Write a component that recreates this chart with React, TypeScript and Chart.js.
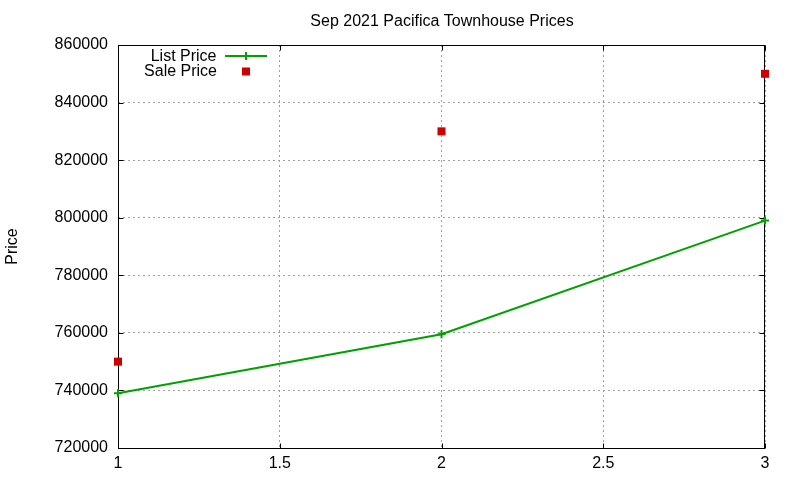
import React, { useEffect, useRef } from 'react';
import { Chart, registerables } from 'chart.js';

Chart.register(...registerables);

const chartTitle = 'Sep 2021 Pacifica Townhouse Prices';
const yAxisLabel = 'Price';
const seriesNames = ['List Price', 'Sale Price'];
const xValues = [1, 2, 3];
const listPrice = [739000, 759500, 799000];
const salePrice = [750000, 830000, 850000];
const yMin = 720000;
const yMax = 860000;
const yStep = 20000;
const xMin = 1;
const xMax = 3;
const xStep = 0.5;

const GREEN = '#00a000';
const RED = '#cc0000';
const GRID = '#a0a0a0';
const FONT = '"Liberation Sans", Arial, sans-serif';

const gnuplotPlugin = {
  id: 'gnuplotFrame',
  beforeDatasetsDraw(chart: any) {
    const { ctx, chartArea: a, scales } = chart;
    ctx.save();
    ctx.strokeStyle = '#000';
    ctx.lineWidth = 1;
    ctx.setLineDash([]);
    const L = Math.round(a.left) + 0.5, R = Math.round(a.right) - 0.5, T = Math.round(a.top) + 0.5, B = Math.round(a.bottom) + 0.5;
    ctx.strokeRect(L, T, R - L, B - T);
    const tl = 5;
    ctx.beginPath();
    scales.y.ticks.forEach((t: any) => {
      const py = Math.round(scales.y.getPixelForValue(t.value)) + 0.5;
      ctx.moveTo(L, py); ctx.lineTo(L + tl, py);
      ctx.moveTo(R, py); ctx.lineTo(R - tl, py);
    });
    scales.x.ticks.forEach((t: any) => {
      const px = Math.round(scales.x.getPixelForValue(t.value)) + 0.5;
      ctx.moveTo(px, B); ctx.lineTo(px, B - tl);
      ctx.moveTo(px, T); ctx.lineTo(px, T + tl);
    });
    ctx.stroke();
    ctx.restore();
  },
  afterDraw(chart: any) {
    const { ctx, chartArea: a } = chart;
    ctx.save();
    ctx.fillStyle = '#000';
    ctx.font = `16px ${FONT}`;
    // title
    ctx.textAlign = 'center';
    ctx.textBaseline = 'middle';
    ctx.fillText(chartTitle, (a.left + a.right) / 2 + 0.5, 21.5);
    // y label
    ctx.save();
    ctx.translate(12.5, (a.top + a.bottom) / 2);
    ctx.rotate(-Math.PI / 2);
    ctx.fillText(yAxisLabel, 0, 0);
    ctx.restore();
    // legend
    ctx.textAlign = 'right';
    ctx.fillText(seriesNames[0], 216.5, 56.5);
    ctx.fillText(seriesNames[1], 217, 71.5);
    ctx.strokeStyle = GREEN;
    ctx.lineWidth = 2;
    ctx.beginPath();
    ctx.moveTo(225, 56); ctx.lineTo(267, 56);
    ctx.moveTo(246, 52); ctx.lineTo(246, 60);
    ctx.stroke();
    ctx.fillStyle = RED;
    ctx.fillRect(242, 67.5, 8, 8);
    ctx.restore();
  },
};

export default function App() {
  const ref = useRef<HTMLCanvasElement | null>(null);
  useEffect(() => {
    document.body.style.margin = '0';
    if (!ref.current) return;
    const chart = new Chart(ref.current, {
      type: 'line',
      data: {
        datasets: [
          {
            label: seriesNames[0],
            data: xValues.map((x, i) => ({ x, y: listPrice[i] })),
            borderColor: GREEN,
            backgroundColor: GREEN,
            borderWidth: 2,
            pointStyle: 'cross',
            pointRadius: 4,
            pointBorderColor: GREEN,
            pointBorderWidth: 2,
            tension: 0,
            fill: false,
            clip: false,
          } as any,
          {
            label: seriesNames[1],
            data: xValues.map((x, i) => ({ x, y: salePrice[i] })),
            showLine: false,
            pointStyle: 'rect',
            pointRadius: 5.66,
            pointBackgroundColor: RED,
            pointBorderColor: RED,
            pointBorderWidth: 0,
            borderColor: RED,
            backgroundColor: RED,
            clip: false,
          } as any,
        ],
      },
      options: {
        animation: false,
        responsive: false,
        devicePixelRatio: 1,
        layout: { padding: { left: 0, top: 45, right: 35, bottom: 0 } },
        plugins: {
          legend: { display: false },
          title: { display: false },
          tooltip: { enabled: false },
        },
        scales: {
          x: {
            type: 'linear',
            min: xMin,
            max: xMax,
            ticks: {
              stepSize: xStep,
              color: '#000',
              font: { family: FONT, size: 16 },
              padding: 6,
              maxRotation: 0,
              callback: (v: any) => String(v),
            },
            grid: { color: GRID, lineWidth: 1, drawTicks: false },
            border: { display: false, dash: [2, 3] },
            afterFit: (s: any) => { s.height = 32; },
          },
          y: {
            type: 'linear',
            min: yMin,
            max: yMax,
            ticks: {
              stepSize: yStep,
              color: '#000',
              font: { family: FONT, size: 16 },
              padding: 10,
              callback: (v: any) => String(v),
            },
            grid: { color: GRID, lineWidth: 1, drawTicks: false },
            border: { display: false, dash: [2, 3] },
            afterFit: (s: any) => { s.width = 118; },
          },
        },
      } as any,
      plugins: [gnuplotPlugin],
    });
    return () => chart.destroy();
  }, []);
  return (
    <div style={{ position: 'fixed', left: 0, top: 0, width: 800, height: 480, background: '#fff' }}>
      <canvas ref={ref} width={800} height={480} style={{ display: 'block' }} />
    </div>
  );
}
